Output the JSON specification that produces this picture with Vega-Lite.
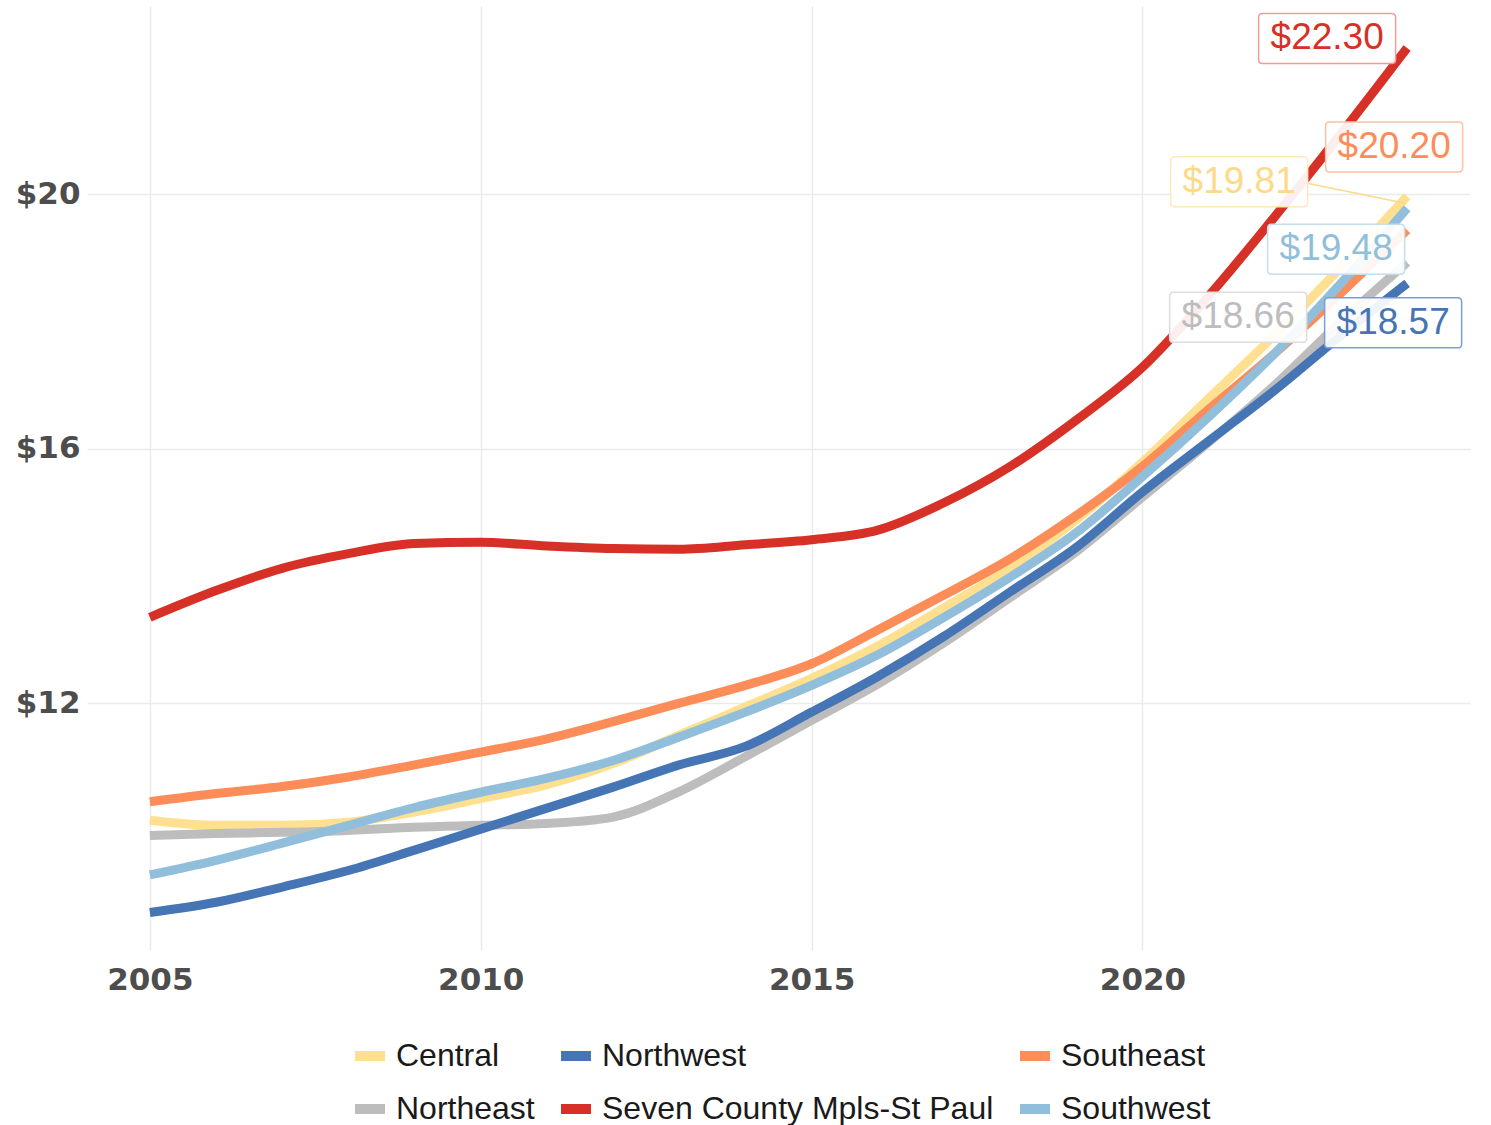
{
  "$schema": "https://vega.github.io/schema/vega-lite/v6.json",
  "width": 1383,
  "height": 944,
  "autosize": {"type": "none"},
  "padding": {"left": 87, "top": 6, "right": 21, "bottom": 175},
  "background": "white",
  "config": {"view": {"stroke": null}, "font": "Liberation Sans"},
  "datasets": {
    "wages": [
      {"series": "Central", "year": 2005, "wage": 10.16}, {"series": "Central", "year": 2006, "wage": 10.08}, {"series": "Central", "year": 2007, "wage": 10.08}, {"series": "Central", "year": 2008, "wage": 10.13}, {"series": "Central", "year": 2009, "wage": 10.29}, {"series": "Central", "year": 2010, "wage": 10.5}, {"series": "Central", "year": 2011, "wage": 10.72}, {"series": "Central", "year": 2012, "wage": 11.05}, {"series": "Central", "year": 2013, "wage": 11.5}, {"series": "Central", "year": 2014, "wage": 11.94}, {"series": "Central", "year": 2015, "wage": 12.39}, {"series": "Central", "year": 2016, "wage": 12.9}, {"series": "Central", "year": 2017, "wage": 13.5}, {"series": "Central", "year": 2018, "wage": 14.12}, {"series": "Central", "year": 2019, "wage": 14.88}, {"series": "Central", "year": 2020, "wage": 15.79}, {"series": "Central", "year": 2021, "wage": 16.79}, {"series": "Central", "year": 2022, "wage": 17.79}, {"series": "Central", "year": 2023, "wage": 18.85}, {"series": "Central", "year": 2024, "wage": 19.97},
      {"series": "Northeast", "year": 2005, "wage": 9.92}, {"series": "Northeast", "year": 2006, "wage": 9.95}, {"series": "Northeast", "year": 2007, "wage": 9.97}, {"series": "Northeast", "year": 2008, "wage": 10.0}, {"series": "Northeast", "year": 2009, "wage": 10.05}, {"series": "Northeast", "year": 2010, "wage": 10.08}, {"series": "Northeast", "year": 2011, "wage": 10.11}, {"series": "Northeast", "year": 2012, "wage": 10.21}, {"series": "Northeast", "year": 2013, "wage": 10.61}, {"series": "Northeast", "year": 2014, "wage": 11.16}, {"series": "Northeast", "year": 2015, "wage": 11.73}, {"series": "Northeast", "year": 2016, "wage": 12.3}, {"series": "Northeast", "year": 2017, "wage": 12.95}, {"series": "Northeast", "year": 2018, "wage": 13.66}, {"series": "Northeast", "year": 2019, "wage": 14.38}, {"series": "Northeast", "year": 2020, "wage": 15.24}, {"series": "Northeast", "year": 2021, "wage": 16.1}, {"series": "Northeast", "year": 2022, "wage": 17.0}, {"series": "Northeast", "year": 2023, "wage": 18.0}, {"series": "Northeast", "year": 2024, "wage": 18.93},
      {"series": "Northwest", "year": 2005, "wage": 8.71}, {"series": "Northwest", "year": 2006, "wage": 8.87}, {"series": "Northwest", "year": 2007, "wage": 9.11}, {"series": "Northwest", "year": 2008, "wage": 9.37}, {"series": "Northwest", "year": 2009, "wage": 9.69}, {"series": "Northwest", "year": 2010, "wage": 10.02}, {"series": "Northwest", "year": 2011, "wage": 10.35}, {"series": "Northwest", "year": 2012, "wage": 10.68}, {"series": "Northwest", "year": 2013, "wage": 11.03}, {"series": "Northwest", "year": 2014, "wage": 11.32}, {"series": "Northwest", "year": 2015, "wage": 11.86}, {"series": "Northwest", "year": 2016, "wage": 12.42}, {"series": "Northwest", "year": 2017, "wage": 13.05}, {"series": "Northwest", "year": 2018, "wage": 13.75}, {"series": "Northwest", "year": 2019, "wage": 14.45}, {"series": "Northwest", "year": 2020, "wage": 15.32}, {"series": "Northwest", "year": 2021, "wage": 16.12}, {"series": "Northwest", "year": 2022, "wage": 16.92}, {"series": "Northwest", "year": 2023, "wage": 17.78}, {"series": "Northwest", "year": 2024, "wage": 18.6},
      {"series": "Seven County Mpls-St Paul", "year": 2005, "wage": 13.35}, {"series": "Seven County Mpls-St Paul", "year": 2006, "wage": 13.77}, {"series": "Seven County Mpls-St Paul", "year": 2007, "wage": 14.12}, {"series": "Seven County Mpls-St Paul", "year": 2008, "wage": 14.35}, {"series": "Seven County Mpls-St Paul", "year": 2009, "wage": 14.51}, {"series": "Seven County Mpls-St Paul", "year": 2010, "wage": 14.53}, {"series": "Seven County Mpls-St Paul", "year": 2011, "wage": 14.47}, {"series": "Seven County Mpls-St Paul", "year": 2012, "wage": 14.43}, {"series": "Seven County Mpls-St Paul", "year": 2013, "wage": 14.42}, {"series": "Seven County Mpls-St Paul", "year": 2014, "wage": 14.49}, {"series": "Seven County Mpls-St Paul", "year": 2015, "wage": 14.57}, {"series": "Seven County Mpls-St Paul", "year": 2016, "wage": 14.72}, {"series": "Seven County Mpls-St Paul", "year": 2017, "wage": 15.15}, {"series": "Seven County Mpls-St Paul", "year": 2018, "wage": 15.72}, {"series": "Seven County Mpls-St Paul", "year": 2019, "wage": 16.45}, {"series": "Seven County Mpls-St Paul", "year": 2020, "wage": 17.28}, {"series": "Seven County Mpls-St Paul", "year": 2021, "wage": 18.4}, {"series": "Seven County Mpls-St Paul", "year": 2022, "wage": 19.65}, {"series": "Seven County Mpls-St Paul", "year": 2023, "wage": 20.95}, {"series": "Seven County Mpls-St Paul", "year": 2024, "wage": 22.3},
      {"series": "Southeast", "year": 2005, "wage": 10.45}, {"series": "Southeast", "year": 2006, "wage": 10.58}, {"series": "Southeast", "year": 2007, "wage": 10.69}, {"series": "Southeast", "year": 2008, "wage": 10.84}, {"series": "Southeast", "year": 2009, "wage": 11.03}, {"series": "Southeast", "year": 2010, "wage": 11.23}, {"series": "Southeast", "year": 2011, "wage": 11.44}, {"series": "Southeast", "year": 2012, "wage": 11.71}, {"series": "Southeast", "year": 2013, "wage": 12.0}, {"series": "Southeast", "year": 2014, "wage": 12.28}, {"series": "Southeast", "year": 2015, "wage": 12.62}, {"series": "Southeast", "year": 2016, "wage": 13.15}, {"series": "Southeast", "year": 2017, "wage": 13.7}, {"series": "Southeast", "year": 2018, "wage": 14.27}, {"series": "Southeast", "year": 2019, "wage": 14.95}, {"series": "Southeast", "year": 2020, "wage": 15.72}, {"series": "Southeast", "year": 2021, "wage": 16.62}, {"series": "Southeast", "year": 2022, "wage": 17.5}, {"series": "Southeast", "year": 2023, "wage": 18.45}, {"series": "Southeast", "year": 2024, "wage": 19.44},
      {"series": "Southwest", "year": 2005, "wage": 9.3}, {"series": "Southwest", "year": 2006, "wage": 9.53}, {"series": "Southwest", "year": 2007, "wage": 9.8}, {"series": "Southwest", "year": 2008, "wage": 10.08}, {"series": "Southwest", "year": 2009, "wage": 10.36}, {"series": "Southwest", "year": 2010, "wage": 10.6}, {"series": "Southwest", "year": 2011, "wage": 10.82}, {"series": "Southwest", "year": 2012, "wage": 11.1}, {"series": "Southwest", "year": 2013, "wage": 11.47}, {"series": "Southwest", "year": 2014, "wage": 11.86}, {"series": "Southwest", "year": 2015, "wage": 12.28}, {"series": "Southwest", "year": 2016, "wage": 12.76}, {"series": "Southwest", "year": 2017, "wage": 13.35}, {"series": "Southwest", "year": 2018, "wage": 13.98}, {"series": "Southwest", "year": 2019, "wage": 14.68}, {"series": "Southwest", "year": 2020, "wage": 15.56}, {"series": "Southwest", "year": 2021, "wage": 16.5}, {"series": "Southwest", "year": 2022, "wage": 17.5}, {"series": "Southwest", "year": 2023, "wage": 18.6}, {"series": "Southwest", "year": 2024, "wage": 19.78}
    ],
    "labels": [
      {"series": "Seven County Mpls-St Paul", "year": 2024, "wage": 22.3, "label": "$22.30"},
      {"series": "Southeast", "year": 2024, "wage": 19.44, "label": "$20.20"},
      {"series": "Central", "year": 2024, "wage": 19.97, "label": "$19.81"},
      {"series": "Southwest", "year": 2024, "wage": 19.78, "label": "$19.48"},
      {"series": "Northeast", "year": 2024, "wage": 18.93, "label": "$18.66"},
      {"series": "Northwest", "year": 2024, "wage": 18.6, "label": "$18.57"}
    ]
  },
  "encoding": {
    "x": {
      "field": "year", "type": "quantitative",
      "scale": {"domain": [2004.05, 2024.95], "nice": false, "zero": false},
      "axis": {"values": [2005, 2010, 2015, 2020], "format": "d", "title": null, "domain": false, "ticks": false,
        "labelFont": "DejaVu Sans", "labelFontWeight": "bold", "labelFontSize": 31, "labelColor": "#4d4d4d",
        "labelPadding": 15, "labelFlush": false, "gridColor": "#ebebeb", "gridWidth": 1.5}
    },
    "y": {
      "field": "wage", "type": "quantitative",
      "scale": {"domain": [8.12, 22.96], "nice": false, "zero": false},
      "axis": {"values": [12, 16, 20], "format": "$.0f", "title": null, "domain": false, "ticks": false,
        "labelFont": "DejaVu Sans", "labelFontWeight": "bold", "labelFontSize": 31, "labelColor": "#4d4d4d",
        "labelPadding": 7, "gridColor": "#ebebeb", "gridWidth": 1.5}
    }
  },
  "layer": [
    {
      "data": {"name": "wages"},
      "mark": {"type": "line", "interpolate": "monotone", "strokeWidth": 9},
      "encoding": {
        "color": {
          "field": "series", "type": "nominal",
          "scale": {
            "domain": ["Central", "Northwest", "Southeast", "Northeast", "Seven County Mpls-St Paul", "Southwest"],
            "range": ["#fee090", "#4575b4", "#fc8d59", "#bdbdbd", "#d73027", "#91bfdb"]
          },
          "legend": {
            "orient": "none", "legendX": 263, "legendY": 1030, "direction": "horizontal", "columns": 3,
            "title": null, "symbolType": "stroke", "symbolSize": 900, "symbolStrokeWidth": 10,
            "labelFont": "Liberation Sans", "labelFontSize": 32, "labelColor": "#1a1a1a",
            "columnPadding": 6, "rowPadding": 13, "labelOffset": 6, "padding": 0, "labelLimit": 600
          }
        }
      }
    },
    {
      "data": {"name": "labels"},
      "transform": [{"filter": "datum.series === 'Seven County Mpls-St Paul'"}],
      "layer": [
        {"mark": {"type": "point", "shape": "M-0.942,-0.365H0.942Q1,-0.365,1,-0.307V0.307Q1,0.365,0.942,0.365H-0.942Q-1,0.365,-1,0.307V-0.307Q-1,-0.365,-0.942,-0.365Z", "size": 18769, "filled": true, "fill": "white", "fillOpacity": 0.92, "stroke": "#ee9e98", "strokeWidth": 1.5, "opacity": 1, "xOffset": -80, "yOffset": -9.5}},
        {"mark": {"type": "text", "font": "Liberation Sans", "fontSize": 37, "fill": "#d73027", "align": "center", "baseline": "middle", "dx": -80, "dy": -9.5}, "encoding": {"text": {"field": "label"}}}
      ]
    },
    {
      "data": {"name": "labels"},
      "transform": [{"filter": "datum.series === 'Southeast'"}],
      "layer": [
        {"mark": {"type": "point", "shape": "M-0.942,-0.365H0.942Q1,-0.365,1,-0.307V0.307Q1,0.365,0.942,0.365H-0.942Q-1,0.365,-1,0.307V-0.307Q-1,-0.365,-0.942,-0.365Z", "size": 18769, "filled": true, "fill": "white", "fillOpacity": 0.92, "stroke": "#fdc0a2", "strokeWidth": 1.5, "opacity": 1, "xOffset": -13, "yOffset": -83}},
        {"mark": {"type": "text", "font": "Liberation Sans", "fontSize": 37, "fill": "#fc8d59", "align": "center", "baseline": "middle", "dx": -13, "dy": -83}, "encoding": {"text": {"field": "label"}}}
      ]
    },
    {
      "data": {"name": "labels"},
      "transform": [{"filter": "datum.series === 'Central'"}],
      "layer": [
        {"mark": {"type": "rule", "stroke": "#fdd98a", "strokeWidth": 1.5, "xOffset": -2, "yOffset": 7, "x2Offset": -100, "y2Offset": -13}, "encoding": {"x2": {"field": "year"}, "y2": {"field": "wage"}}},
        {"mark": {"type": "point", "shape": "M-0.942,-0.365H0.942Q1,-0.365,1,-0.307V0.307Q1,0.365,0.942,0.365H-0.942Q-1,0.365,-1,0.307V-0.307Q-1,-0.365,-0.942,-0.365Z", "size": 18769, "filled": true, "fill": "white", "fillOpacity": 0.92, "stroke": "#feeab8", "strokeWidth": 1.5, "opacity": 1, "xOffset": -168, "yOffset": -14.5}},
        {"mark": {"type": "text", "font": "Liberation Sans", "fontSize": 37, "fill": "#fdd98a", "align": "center", "baseline": "middle", "dx": -168, "dy": -14.5}, "encoding": {"text": {"field": "label"}}}
      ]
    },
    {
      "data": {"name": "labels"},
      "transform": [{"filter": "datum.series === 'Southwest'"}],
      "layer": [
        {"mark": {"type": "point", "shape": "M-0.942,-0.365H0.942Q1,-0.365,1,-0.307V0.307Q1,0.365,0.942,0.365H-0.942Q-1,0.365,-1,0.307V-0.307Q-1,-0.365,-0.942,-0.365Z", "size": 18769, "filled": true, "fill": "white", "fillOpacity": 0.92, "stroke": "#c4deee", "strokeWidth": 1.5, "opacity": 1, "xOffset": -71, "yOffset": 41}},
        {"mark": {"type": "text", "font": "Liberation Sans", "fontSize": 37, "fill": "#91bfdb", "align": "center", "baseline": "middle", "dx": -71, "dy": 41}, "encoding": {"text": {"field": "label"}}}
      ]
    },
    {
      "data": {"name": "labels"},
      "transform": [{"filter": "datum.series === 'Northeast'"}],
      "layer": [
        {"mark": {"type": "point", "shape": "M-0.942,-0.365H0.942Q1,-0.365,1,-0.307V0.307Q1,0.365,0.942,0.365H-0.942Q-1,0.365,-1,0.307V-0.307Q-1,-0.365,-0.942,-0.365Z", "size": 18769, "filled": true, "fill": "white", "fillOpacity": 0.92, "stroke": "#dddddd", "strokeWidth": 1.5, "opacity": 1, "xOffset": -169, "yOffset": 55}},
        {"mark": {"type": "text", "font": "Liberation Sans", "fontSize": 37, "fill": "#bdbdbd", "align": "center", "baseline": "middle", "dx": -169, "dy": 55}, "encoding": {"text": {"field": "label"}}}
      ]
    },
    {
      "data": {"name": "labels"},
      "transform": [{"filter": "datum.series === 'Northwest'"}],
      "layer": [
        {"mark": {"type": "point", "shape": "M-0.942,-0.365H0.942Q1,-0.365,1,-0.307V0.307Q1,0.365,0.942,0.365H-0.942Q-1,0.365,-1,0.307V-0.307Q-1,-0.365,-0.942,-0.365Z", "size": 18769, "filled": true, "fill": "white", "fillOpacity": 0.92, "stroke": "#7d9fd0", "strokeWidth": 1.5, "opacity": 1, "xOffset": -14, "yOffset": 39.5}},
        {"mark": {"type": "text", "font": "Liberation Sans", "fontSize": 37, "fill": "#4575b4", "align": "center", "baseline": "middle", "dx": -14, "dy": 39.5}, "encoding": {"text": {"field": "label"}}}
      ]
    }
  ]
}
